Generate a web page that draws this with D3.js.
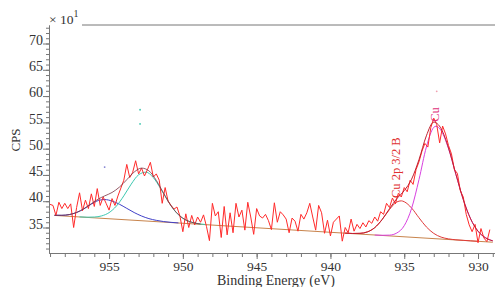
<!DOCTYPE html>
<html>
<head>
<meta charset="utf-8">
<script src="https://cdn.jsdelivr.net/npm/d3@7"></script>
<style>
  html, body { margin: 0; padding: 0; background: #fff; }
  #container { width: 495px; height: 287px; overflow: hidden; }
  text { font-family: "Liberation Serif", "DejaVu Serif", serif; fill: #333; }
</style>
</head>
<body>
<div id="container"></div>
<script>
// raw spectrum, grid starts at 959.0 eV and steps 0.2 eV downwards
var rawStart = 959.0, rawStep = 0.2;
var rawCps = [
  39.4, 39.2, 37.3, 39.8, 38.6, 39.6, 38.6, 39.5, 35.0, 38.8,
  41.6, 38.2, 40.2, 38.6, 41.4, 39.0, 42.4, 39.2, 40.8, 39.6,
  38.3, 40.5, 39.2, 41.0, 42.5, 44.0, 47.0, 44.5, 45.5, 47.7,
  45.2, 46.3, 44.8, 46.0, 47.4, 44.6, 45.2, 44.0, 39.6, 42.6,
  40.0, 39.2, 38.5, 38.9, 37.2, 34.2, 37.6, 35.0, 37.3, 35.5,
  37.0, 36.0, 37.4, 35.2, 32.5, 39.6, 37.2, 38.0, 33.1, 39.0,
  33.6, 37.8, 34.0, 39.6, 37.0, 38.3, 34.5, 39.8, 37.0, 33.7,
  38.6, 37.2, 36.8, 37.5, 36.3, 34.6, 39.7, 36.0, 38.0, 37.4,
  36.6, 34.0, 36.8, 36.2, 34.3, 37.5, 36.6, 37.8, 39.6, 37.0,
  34.5, 39.2, 37.8, 33.9, 36.4, 33.4, 36.0, 36.6, 37.2, 32.4,
  35.0, 34.0, 36.6, 34.3, 35.6, 34.8, 35.9, 35.1, 36.3, 35.8,
  37.0, 36.2, 38.0, 37.5, 39.6, 38.8, 40.6, 39.5, 41.5, 40.8,
  42.6, 41.8, 44.0, 43.2, 46.0, 47.5, 49.5, 51.0, 50.3, 54.0,
  55.8, 54.6, 51.1, 54.3, 52.8, 50.6, 49.0, 46.0, 45.3, 42.0,
  40.8, 37.5, 35.5, 34.2, 35.6, 32.1, 34.8, 33.0, 32.3, 34.6
];

// fitted background
var bgE = [958.7, 929.0];
var bgV = [37.3, 32.2];

// fitted components
var blueE = [958.7, 958.2, 957.7, 957.2, 956.7, 956.2, 955.7, 955.3, 954.8, 954.3, 953.8, 953.3, 952.8, 952.3, 951.8, 951.3, 950.8, 950.3];
var blueV = [37.33, 37.32, 37.46, 37.85, 38.56, 39.45, 40.16, 40.32, 40.03, 39.43, 38.64, 37.85, 37.19, 36.69, 36.36, 36.13, 35.98, 35.87];

var cyanE = [957.0, 956.5, 956.0, 955.5, 955.0, 954.5, 954.0, 953.5, 953.0, 952.5, 952.0, 951.5, 951.0, 950.5, 950.0, 949.5, 949.0, 948.5];
var cyanV = [37.02, 36.96, 36.99, 37.21, 37.83, 39.09, 41.02, 43.25, 45.02, 45.53, 44.49, 42.36, 39.98, 38.02, 36.75, 36.08, 35.74, 35.58];

var redE = [939.0, 938.5, 938.0, 937.5, 937.0, 936.5, 936.0, 935.5, 935.2, 935.0, 934.5, 934.0, 933.5, 933.0, 932.5, 932.0, 931.5, 931.0, 930.5, 930.0];
var redV = [33.93, 33.86, 33.89, 34.16, 34.97, 36.49, 38.42, 39.86, 40.07, 39.90, 38.70, 36.85, 35.11, 33.88, 33.17, 32.84, 32.66, 32.56, 32.46, 32.37];

var magE = [937.0, 936.5, 936.0, 935.5, 935.0, 934.5, 934.0, 933.5, 933.0, 932.85, 932.5, 932.0, 931.5, 931.0, 930.5, 930.0, 929.5, 929.0];
var magV = [33.57, 33.52, 33.55, 33.96, 35.35, 38.65, 44.12, 50.31, 54.05, 54.26, 53.43, 50.01, 45.11, 40.32, 36.63, 34.30, 33.06, 32.46];

// envelope (sum of fit)
var envLeftE = [958.7, 958.2, 957.7, 957.2, 956.7, 956.2, 955.7, 955.3, 954.8, 954.3, 953.8, 953.3, 952.8, 952.3, 951.8, 951.3, 950.8, 950.3, 949.8, 949.3, 948.8];
var envLeftV = [37.33, 37.32, 37.46, 37.86, 38.58, 39.54, 40.46, 41.01, 41.66, 42.68, 44.09, 45.54, 46.30, 45.78, 43.97, 41.50, 39.14, 37.45, 36.44, 35.92, 35.67];
var envRightE = [939.0, 938.5, 938.0, 937.5, 937.0, 936.5, 936.0, 935.5, 935.0, 934.5, 934.0, 933.5, 933.0, 932.5, 932.0, 931.5, 931.0, 930.5, 930.0, 929.5, 929.0];
var envRightV = [33.93, 33.86, 33.89, 34.16, 34.97, 36.52, 38.57, 40.50, 42.02, 44.20, 47.91, 52.44, 55.04, 53.80, 50.13, 45.14, 40.32, 36.63, 34.30, 33.06, 32.46];

// stray marker dots
var dotE = [952.9, 952.9, 955.3, 932.8];
var dotV = [57.4, 54.7, 46.5, 60.9];
var dotC = ["#40c8b0", "#40c8b0", "#8080d0", "#f0a0b0"];

// peak labels
var labelText = ["Cu 2p 3/2 B", "Cu"];
var labelE = [935.3, 932.65];
var labelV = [40.6, 55.1];
var labelC = ["#e03030", "#e0307a"];

var xMajor = [955, 950, 945, 940, 935, 930];
var xMinor = d3.range(929, 960);
var yMajor = [35, 40, 45, 50, 55, 60, 65, 70];
var yMinor = d3.range(31, 74);

(function () {
  var W = 495, H = 287;
  var m = { left: 49, right: 495, top: 25, bottom: 253 };

  var svg = d3.select("#container").append("svg")
    .attr("width", W).attr("height", H);

  var x = d3.scaleLinear().domain([959.07, 928.85]).range([m.left, m.right]);
  var y = d3.scaleLinear().domain([30.15, 73.52]).range([m.bottom, m.top]);

  // axes
  svg.append("g").attr("transform", "translate(0," + m.bottom + ")")
    .call(d3.axisBottom(x).tickValues(xMinor).tickSize(4).tickSizeOuter(0).tickFormat(""));
  var xG = svg.append("g").attr("transform", "translate(0," + m.bottom + ")")
    .call(d3.axisBottom(x).tickValues(xMajor).tickSize(6).tickSizeOuter(0).tickPadding(2).tickFormat(d3.format("d")));
  svg.append("g").attr("transform", "translate(" + m.left + ",0)")
    .call(d3.axisLeft(y).tickValues(yMinor).tickSize(3).tickSizeOuter(0).tickFormat(""));
  var yG = svg.append("g").attr("transform", "translate(" + m.left + ",0)")
    .call(d3.axisLeft(y).tickValues(yMajor).tickSize(6).tickSizeOuter(0).tickPadding(0).tickFormat(d3.format("d")));

  svg.selectAll(".domain").attr("stroke", "#777");
  svg.selectAll(".tick line").attr("stroke", "#777");
  xG.selectAll("text").attr("font-family", "Liberation Serif").attr("font-size", 13.5).attr("fill", "#333");
  // y labels sit on their tick
  yG.selectAll("text").attr("font-family", "Liberation Serif").attr("font-size", 14).attr("fill", "#333")
    .attr("dy", "0.05em");

  // top border
  svg.append("line")
    .attr("x1", 82).attr("x2", m.right).attr("y1", m.top).attr("y2", m.top)
    .attr("stroke", "#777");

  // axis titles
  svg.append("text").text("Binding Energy (eV)")
    .attr("x", 276).attr("y", 285).attr("text-anchor", "middle").attr("font-size", 14);
  svg.append("text").text("CPS")
    .attr("transform", "translate(20,140) rotate(-90)")
    .attr("text-anchor", "middle").attr("font-size", 13);
  var mult = svg.append("text").attr("x", 49).attr("y", 24).attr("font-size", 13.5);
  mult.append("tspan").text("\u00d7 10");
  mult.append("tspan").text("1").attr("dy", -7).attr("font-size", 10);

  // lines
  function pairs(E, V) { return E.map(function (e, i) { return [e, V[i]]; }); }
  var smooth = d3.line().x(function (d) { return x(d[0]); }).y(function (d) { return y(d[1]); })
    .curve(d3.curveMonotoneX);
  var straight = d3.line().x(function (d) { return x(d[0]); }).y(function (d) { return y(d[1]); });

  var raw = rawCps.map(function (v, i) { return [rawStart - rawStep * i, v]; });

  function draw(data, gen, color, w) {
    svg.append("path").datum(data)
      .attr("d", gen).attr("fill", "none")
      .attr("stroke", color).attr("stroke-width", w);
  }

  draw(pairs(bgE, bgV), straight, "#c8844c", 1);
  draw(pairs(blueE, blueV), smooth, "#4040c8", 1);
  draw(pairs(cyanE, cyanV), smooth, "#3cc8b0", 1);
  draw(pairs(redE, redV), smooth, "#e03a3a", 1);
  draw(pairs(magE, magV), smooth, "#d840e0", 1);
  draw(raw, straight, "#ff2a2a", 1);
  draw(pairs(envLeftE, envLeftV), smooth, "#7a3040", 0.8);
  draw(pairs(envRightE, envRightV), smooth, "#c02030", 1);

  svg.selectAll(".dot").data(dotE).enter().append("circle")
    .attr("cx", function (d) { return x(d); })
    .attr("cy", function (d, i) { return y(dotV[i]); })
    .attr("r", 0.9)
    .attr("fill", function (d, i) { return dotC[i]; });

  svg.selectAll(".peaklabel").data(labelText).enter().append("text")
    .text(function (d) { return d; })
    .attr("transform", function (d, i) {
      return "translate(" + x(labelE[i]) + "," + y(labelV[i]) + ") rotate(-90)";
    })
    .attr("font-size", 12.5)
    .style("fill", function (d, i) { return labelC[i]; });
})();
</script>
</body>
</html>
